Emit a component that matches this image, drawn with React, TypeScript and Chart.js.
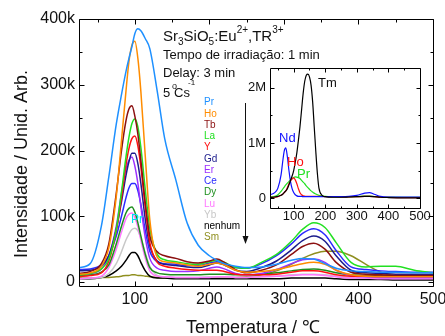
import React, { useEffect, useRef } from 'react';
import { Chart, registerables } from 'chart.js';
Chart.register(...registerables);

const FONT = "'Liberation Sans', Arial, Helvetica, sans-serif";

// ---------- main chart data (intensity in thousands) ----------
const temps = [25, 40, 55, 65, 75, 82, 88, 92, 96, 100, 104, 108, 114, 120, 130, 140, 155, 170, 185, 200, 210, 220, 235, 250, 270, 290, 310, 325, 340, 355, 370, 390, 410, 430, 450, 475, 500];

const prVals = [22, 28, 85, 160, 240, 285, 320, 340, 358, 378, 385, 382, 370, 355, 290, 218, 155, 90, 56, 40, 33, 28, 24, 22, 23, 27, 33, 36, 35, 28, 21, 17, 16, 15, 15, 14, 14];
const hoVals = [12, 14, 24, 52, 130, 215, 290, 335, 360, 366, 340, 290, 190, 95, 38, 31, 29, 26, 24, 27, 29, 26, 18, 15, 16, 19, 24, 28, 30, 27, 18, 11, 9, 8, 8, 8, 8];
const tbVals = [13, 16, 28, 58, 135, 200, 245, 263, 268, 252, 225, 185, 120, 70, 46, 40, 36, 31, 29, 32, 35, 30, 19, 14, 18, 26, 42, 54, 59, 50, 30, 15, 12, 11, 10, 10, 10];
const laVals = [11, 13, 20, 35, 80, 137, 190, 220, 241, 248, 236, 205, 140, 82, 42, 34, 31, 28, 27, 31, 33, 30, 22, 21, 30, 42, 62, 80, 90, 83, 60, 30, 23, 24, 24, 18, 14];
const yVals = [8, 10, 14, 32, 78, 128, 178, 203, 218, 222, 207, 175, 113, 60, 30, 24, 21, 19, 18, 18, 18, 16, 12, 11, 11, 12, 15, 17, 17, 15, 11, 9, 9, 9, 9, 9, 9];
const gdVals = [17, 18, 24, 40, 80, 122, 162, 183, 196, 196, 180, 150, 95, 55, 32, 27, 25, 23, 22, 26, 29, 26, 18, 16, 22, 32, 49, 63, 70, 62, 40, 18, 14, 13, 12, 12, 12];
const erVals = [12, 13, 20, 40, 85, 135, 172, 185, 190, 176, 150, 115, 67, 36, 21, 18, 16, 16, 17, 21, 23, 20, 13, 11, 13, 19, 28, 34, 35, 30, 18, 10, 8, 7, 7, 7, 7];
const ceVals = [19, 20, 26, 40, 70, 100, 128, 143, 150, 150, 139, 118, 78, 47, 31, 28, 27, 25, 25, 29, 31, 28, 22, 21, 28, 40, 58, 74, 81, 72, 48, 23, 19, 17, 16, 15, 15];
const dyVals = [10, 11, 15, 26, 58, 85, 105, 112, 114, 106, 90, 70, 42, 22, 14, 12, 11, 11, 11, 12, 12, 12, 11, 11, 12, 14, 17, 19, 20, 18, 14, 11, 10, 10, 10, 10, 10];
const luVals = [5, 6, 9, 22, 50, 76, 96, 103, 105, 98, 84, 64, 36, 17, 9, 8, 7, 7, 7, 7, 8, 8, 7, 7, 8, 9, 10, 11, 11, 10, 8, 6, 6, 5, 5, 5, 5];
const ybVals = [5, 6, 7, 13, 28, 46, 64, 73, 80, 82, 78, 67, 44, 24, 10, 8, 7, 7, 7, 8, 8, 8, 7, 7, 8, 9, 11, 12, 12, 11, 9, 7, 6, 6, 6, 6, 6];
const nenhumVals = [5, 5, 7, 10, 17, 24, 33, 40, 45, 45, 40, 30, 17, 9, 6, 6, 5, 5, 5, 5, 5, 5, 5, 5, 5, 5, 6, 6, 6, 6, 5, 4, 4, 4, 3, 3, 3];
const smVals = [6, 6, 7, 7, 8, 9, 10, 10, 11, 11, 10, 10, 9, 8, 7, 6, 6, 6, 6, 6, 6, 6, 7, 8, 11, 17, 27, 36, 43, 47, 47, 40, 27, 15, 9, 6, 5];

const seriesNames = ['Pr', 'Ho', 'Tb', 'La', 'Y', 'Gd', 'Er', 'Ce', 'Dy', 'Lu', 'Yb', 'nenhum', 'Sm'];
const seriesValues = [prVals, hoVals, tbVals, laVals, yVals, gdVals, erVals, ceVals, dyVals, luVals, ybVals, nenhumVals, smVals];
const seriesColors = ['#1e90ff', '#ff8c00', '#8b1010', '#22e022', '#ff1010', '#1c1c8c', '#9b30ff', '#2b2bff', '#1f8f1f', '#ff77ff', '#c8c8c8', '#000000', '#8f8f1f'];

const xTickValues = [100, 200, 300, 400, 500];
const yTickValues = [0, 100, 200, 300, 400];

// ---------- inset data (intensity in millions) ----------
const insetTemps = [25, 40, 50, 60, 65, 70, 75, 80, 85, 90, 95, 100, 105, 110, 115, 120, 125, 130, 135, 140, 145, 150, 155, 160, 165, 170, 175, 180, 190, 200, 225, 250, 275, 300, 325, 340, 355, 375, 400, 450, 500];
const insetTm = [0.01, 0.02, 0.03, 0.05, 0.07, 0.1, 0.13, 0.17, 0.24, 0.32, 0.4, 0.5, 0.65, 0.82, 1.05, 1.3, 1.6, 1.9, 2.12, 2.23, 2.25, 2.2, 2.05, 1.75, 1.3, 0.85, 0.45, 0.18, 0.05, 0.025, 0.015, 0.015, 0.02, 0.025, 0.03, 0.03, 0.025, 0.015, 0.01, 0.005, 0.005];
const insetNd = [0.06, 0.1, 0.18, 0.42, 0.65, 0.85, 0.91, 0.75, 0.5, 0.3, 0.17, 0.1, 0.06, 0.04, 0.03, 0.03, 0.03, 0.025, 0.025, 0.025, 0.025, 0.025, 0.025, 0.025, 0.025, 0.025, 0.025, 0.025, 0.025, 0.025, 0.025, 0.025, 0.03, 0.05, 0.09, 0.1, 0.07, 0.03, 0.02, 0.02, 0.02];
const insetHo = [0.01, 0.015, 0.025, 0.05, 0.07, 0.1, 0.13, 0.19, 0.26, 0.31, 0.35, 0.366, 0.33, 0.26, 0.17, 0.095, 0.06, 0.04, 0.035, 0.03, 0.03, 0.03, 0.03, 0.03, 0.03, 0.03, 0.03, 0.03, 0.03, 0.028, 0.025, 0.022, 0.022, 0.025, 0.03, 0.03, 0.027, 0.018, 0.012, 0.008, 0.008];
const insetPr = [0.02, 0.03, 0.06, 0.12, 0.16, 0.2, 0.24, 0.27, 0.3, 0.33, 0.35, 0.375, 0.385, 0.38, 0.37, 0.355, 0.32, 0.29, 0.26, 0.22, 0.19, 0.16, 0.13, 0.11, 0.09, 0.075, 0.06, 0.05, 0.04, 0.03, 0.022, 0.02, 0.022, 0.028, 0.035, 0.034, 0.028, 0.02, 0.016, 0.014, 0.014];

const insetNames = ['Tm', 'Nd', 'Ho', 'Pr'];
const insetValues = [insetTm, insetNd, insetHo, insetPr];
const insetColors = ['#000000', '#1010ff', '#ff1010', '#22e022'];
const insetXTicks = [100, 200, 300, 400, 500];
const insetYTicks = [0, 1, 2];

type FrameCfg = { xMajor: number; xMinor: number; yMajor: number; yMinor: number; major: number; minor: number };

function framePlugin(cfg: FrameCfg) {
  return {
    id: 'frameTicks',
    afterDatasetsDraw(chart: any) {
      const { ctx, chartArea } = chart;
      const L = Math.round(chartArea.left) + 0.5;
      const R = Math.round(chartArea.right) + 0.5;
      const T = Math.round(chartArea.top) + 0.5;
      const B = Math.round(chartArea.bottom) + 0.5;
      const xs = chart.scales.x;
      const ys = chart.scales.y;
      ctx.save();
      ctx.strokeStyle = '#000';
      ctx.lineWidth = 1;
      ctx.beginPath();
      ctx.rect(L, T, R - L, B - T);
      const ratioX = Math.round(cfg.xMajor / cfg.xMinor);
      for (let k = Math.ceil(xs.min / cfg.xMinor); k * cfg.xMinor <= xs.max + 1e-9; k++) {
        const v = k * cfg.xMinor;
        const px = Math.round(xs.getPixelForValue(v)) + 0.5;
        const len = k % ratioX === 0 ? cfg.major : cfg.minor;
        ctx.moveTo(px, B); ctx.lineTo(px, B - len);
        ctx.moveTo(px, T); ctx.lineTo(px, T + len);
      }
      const ratioY = Math.round(cfg.yMajor / cfg.yMinor);
      for (let k = Math.ceil(ys.min / cfg.yMinor); k * cfg.yMinor <= ys.max + 1e-9; k++) {
        const v = k * cfg.yMinor;
        const py = Math.round(ys.getPixelForValue(v)) + 0.5;
        const len = k % ratioY === 0 ? cfg.major : cfg.minor;
        ctx.moveTo(L, py); ctx.lineTo(L + len, py);
        ctx.moveTo(R, py); ctx.lineTo(R - len, py);
      }
      ctx.stroke();
      ctx.restore();
    },
  };
}

function drawRich(ctx: CanvasRenderingContext2D, x: number, y: number, parts: [string, number, number][], color: string) {
  let cx = x;
  ctx.fillStyle = color;
  ctx.textBaseline = 'alphabetic';
  ctx.textAlign = 'left';
  for (const [txt, size, dy] of parts) {
    ctx.font = `${size}px ${FONT}`;
    ctx.fillText(txt, cx, y + dy);
    cx += ctx.measureText(txt).width;
  }
}

const mainTextPlugin = {
  id: 'mainText',
  afterDraw(chart: any) {
    const ctx: CanvasRenderingContext2D = chart.ctx;
    ctx.save();
    // axis titles
    ctx.fillStyle = '#111';
    ctx.font = `18px ${FONT}`;
    ctx.textAlign = 'center';
    ctx.textBaseline = 'alphabetic';
    ctx.fillText('Temperatura / ℃', 253, 333);
    ctx.save();
    ctx.translate(27, 164);
    ctx.rotate(-Math.PI / 2);
    ctx.fillText('Intensidade / Unid. Arb.', 0, 0);
    ctx.restore();

    // formula and conditions
    drawRich(ctx, 163, 41, [
      ['Sr', 15, 0], ['3', 10, 4], ['SiO', 15, 0], ['5', 10, 4], [':Eu', 15, 0], ['2+', 10, -8], [',TR', 15, 0], ['3+', 10, -8],
    ], '#111');
    ctx.font = `13px ${FONT}`;
    ctx.fillStyle = '#111';
    ctx.textAlign = 'left';
    ctx.fillText('Tempo de irradiação: 1 min', 163, 59);
    ctx.fillText('Delay: 3 min', 163, 77);
    ctx.fillText('5', 163, 97);
    ctx.font = `9px ${FONT}`;
    ctx.fillText('o', 172, 89);
    ctx.font = `13px ${FONT}`;
    ctx.fillText('Cs', 174, 97);
    ctx.font = `8px ${FONT}`;
    ctx.fillText('-1', 188, 85);

    // series name list
    ctx.font = `10px ${FONT}`;
    ctx.textBaseline = 'middle';
    seriesNames.forEach((n, i) => {
      ctx.fillStyle = seriesColors[i];
      ctx.fillText(n, 204, 102.5 + i * 11.25);
    });

    // cyan Pr label near the first peak
    ctx.font = `12px ${FONT}`;
    ctx.fillStyle = '#00e0f0';
    ctx.textAlign = 'center';
    ctx.textBaseline = 'alphabetic';
    ctx.fillText('Pr', 137, 223);

    // arrow
    ctx.strokeStyle = '#111';
    ctx.fillStyle = '#111';
    ctx.lineWidth = 1;
    ctx.beginPath();
    ctx.moveTo(245.5, 103);
    ctx.lineTo(245.5, 237);
    ctx.stroke();
    ctx.beginPath();
    ctx.moveTo(242.5, 236);
    ctx.lineTo(248.5, 236);
    ctx.lineTo(245.5, 244);
    ctx.closePath();
    ctx.fill();
    ctx.restore();
  },
};

const INSET_LEFT = 230;
const INSET_TOP = 58;

const insetTextPlugin = {
  id: 'insetText',
  afterDraw(chart: any) {
    const ctx: CanvasRenderingContext2D = chart.ctx;
    ctx.save();
    ctx.font = `13px ${FONT}`;
    ctx.textAlign = 'left';
    ctx.textBaseline = 'alphabetic';
    const labels: [string, string, number, number][] = [
      ['Tm', '#111', 318, 86.5],
      ['Nd', '#1010ff', 279, 141.5],
      ['Ho', '#ff1010', 287, 166],
      ['Pr', '#22e022', 297, 177.5],
    ];
    for (const [t, c, x, y] of labels) {
      ctx.fillStyle = c;
      ctx.fillText(t, x - INSET_LEFT, y - INSET_TOP);
    }
    ctx.restore();
  },
};

const whiteBg = {
  id: 'whiteBg',
  beforeDatasetsDraw(chart: any) {
    const { ctx, chartArea } = chart;
    ctx.save();
    ctx.fillStyle = '#fff';
    ctx.fillRect(chartArea.left, chartArea.top, chartArea.right - chartArea.left, chartArea.bottom - chartArea.top);
    ctx.restore();
  },
};

export default function App() {
  const mainRef = useRef<HTMLCanvasElement | null>(null);
  const insetRef = useRef<HTMLCanvasElement | null>(null);

  useEffect(() => {
    if (!mainRef.current || !insetRef.current) return;
    const main = new Chart(mainRef.current, {
      type: 'line',
      data: {
        datasets: seriesNames.map((n, i) => ({
          label: n,
          data: temps.map((t, j) => ({ x: t, y: seriesValues[i][j] })),
          borderColor: seriesColors[i],
          backgroundColor: seriesColors[i],
          borderWidth: 1.5,
          pointRadius: 0,
          fill: false,
          cubicInterpolationMode: 'monotone' as const,
        })),
      },
      options: {
        responsive: false,
        animation: false,
        events: [],
        layout: { padding: { left: 0, right: 12, top: 19, bottom: 0 } },
        plugins: { legend: { display: false }, tooltip: { enabled: false } },
        scales: {
          x: {
            type: 'linear',
            min: 25,
            max: 500,
            grid: { display: false, drawTicks: false },
            border: { display: false },
            afterBuildTicks: (s: any) => { s.ticks = xTickValues.map((v) => ({ value: v })); },
            afterFit: (s: any) => { s.height = 50; s.paddingLeft = 0; s.paddingRight = 0; },
            ticks: { padding: 4, color: '#111', font: { family: FONT, size: 16 }, maxRotation: 0, autoSkip: false },
          },
          y: {
            type: 'linear',
            min: -6,
            max: 400,
            grid: { display: false, drawTicks: false },
            border: { display: false },
            afterBuildTicks: (s: any) => { s.ticks = yTickValues.map((v) => ({ value: v })); },
            afterFit: (s: any) => { s.width = 79; s.paddingTop = 0; s.paddingBottom = 0; },
            ticks: {
              padding: 4,
              color: '#111',
              font: { family: FONT, size: 16 },
              callback: (v: any) => (Number(v) === 0 ? '0' : `${v}k`),
            },
          },
        },
      },
      plugins: [framePlugin({ xMajor: 100, xMinor: 50, yMajor: 100, yMinor: 50, major: 5, minor: 3 }), mainTextPlugin],
    } as any);

    const inset = new Chart(insetRef.current, {
      type: 'line',
      data: {
        datasets: insetNames.map((n, i) => ({
          label: n,
          data: insetTemps.map((t, j) => ({ x: t, y: insetValues[i][j] })),
          borderColor: insetColors[i],
          backgroundColor: insetColors[i],
          borderWidth: 1.2,
          pointRadius: 0,
          fill: false,
          cubicInterpolationMode: 'monotone' as const,
        })),
      },
      options: {
        responsive: false,
        animation: false,
        events: [],
        layout: { padding: { left: 0, right: 15, top: 10, bottom: 0 } },
        plugins: { legend: { display: false }, tooltip: { enabled: false } },
        scales: {
          x: {
            type: 'linear',
            min: 25,
            max: 500,
            grid: { display: false, drawTicks: false },
            border: { display: false },
            afterBuildTicks: (s: any) => { s.ticks = insetXTicks.map((v) => ({ value: v })); },
            afterFit: (s: any) => { s.height = 30; s.paddingLeft = 0; s.paddingRight = 0; },
            ticks: { padding: 1, color: '#111', font: { family: FONT, size: 13 }, maxRotation: 0, autoSkip: false },
          },
          y: {
            type: 'linear',
            min: -0.18,
            max: 2.36,
            grid: { display: false, drawTicks: false },
            border: { display: false },
            afterBuildTicks: (s: any) => { s.ticks = insetYTicks.map((v) => ({ value: v })); },
            afterFit: (s: any) => { s.width = 40; s.paddingTop = 0; s.paddingBottom = 0; },
            ticks: {
              padding: 4,
              color: '#111',
              font: { family: FONT, size: 13 },
              callback: (v: any) => (Number(v) === 0 ? '0' : `${v}M`),
            },
          },
        },
      },
      plugins: [whiteBg, framePlugin({ xMajor: 100, xMinor: 50, yMajor: 1, yMinor: 0.5, major: 4, minor: 2 }), insetTextPlugin],
    } as any);

    return () => {
      main.destroy();
      inset.destroy();
    };
  }, []);

  return (
    <div style={{ position: 'absolute', left: 0, top: 0, width: 445, height: 336, background: '#fff' }}>
      <canvas ref={mainRef} width={445} height={336} style={{ position: 'absolute', left: 0, top: 0, width: 445, height: 336 }} />
      <canvas ref={insetRef} width={205} height={180} style={{ position: 'absolute', left: INSET_LEFT, top: INSET_TOP, width: 205, height: 180 }} />
    </div>
  );
}
